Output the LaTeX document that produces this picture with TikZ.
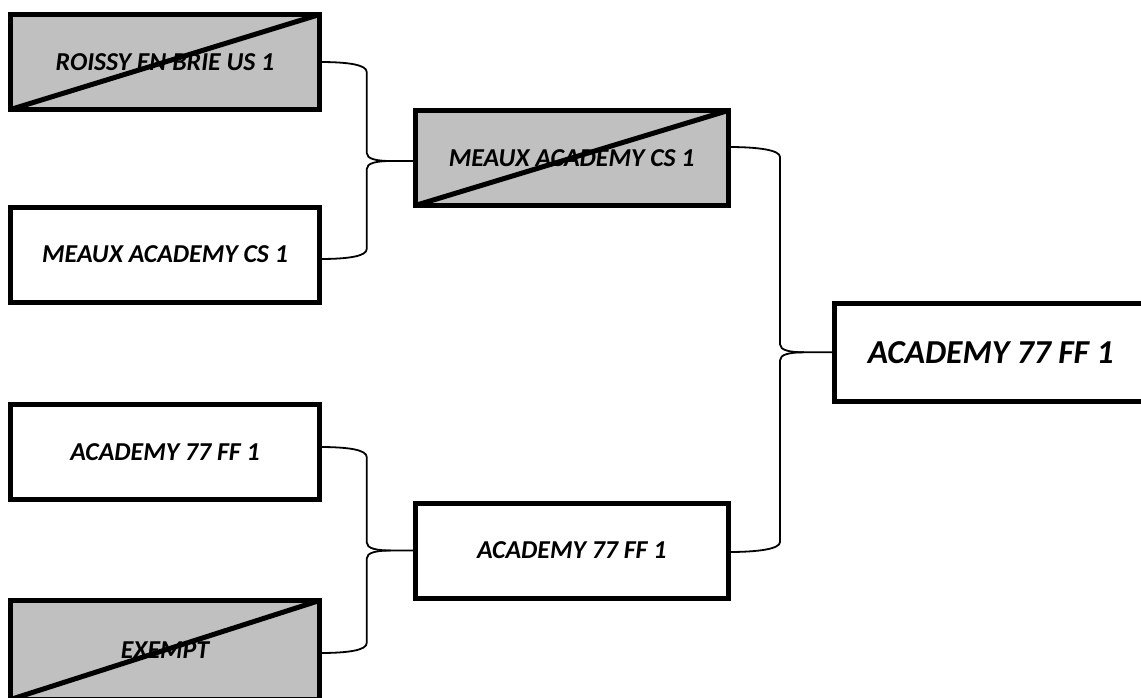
\documentclass[tikz,border=0pt]{standalone}
\usepackage{fontspec}
\setmainfont{Carlito}
\usetikzlibrary{calc}
\definecolor{lostgray}{RGB}{192,192,192}

\begin{document}
\begin{tikzpicture}[x=1pt,y=-1pt,
  team/.style={draw,line width=5pt,minimum width=309pt,minimum height=95pt,
    inner sep=0pt,outer sep=0pt,font=\fontsize{25.8}{31}\selectfont\bfseries\itshape},
  lostteam/.style={team,fill=lostgray},
  conn/.style={line width=1.8pt}]
\useasboundingbox (0,0) rectangle (1141,697);

% first round
\node [lostteam] (ra) at (165,62) {ROISSY EN BRIE US 1};
\node [team] (rb) at (165,254.5) {MEAUX ACADEMY CS 1};
\node [team] (rc) at (165,452) {ACADEMY 77 FF 1};
\node [lostteam,minimum height=99pt] (rd) at (165,650) {EXEMPT};
% semi finals
\node [lostteam,minimum width=313pt] (sa) at (571.7,158) {MEAUX ACADEMY CS 1};
\node [team,minimum width=313pt] (sb) at (571.7,550.5) {ACADEMY 77 FF 1};
% final
\node [team,minimum width=313pt,minimum height=98pt,
  font=\fontsize{33.5}{40}\selectfont\bfseries\itshape] (fin) at (990.7,352.3) {ACADEMY 77 FF 1};

\draw [line width=5pt] (ra.south west) -- (ra.north east) ;
\draw [line width=5pt] (rd.south west) -- (rd.north east) ;
\draw [line width=5pt] (sa.south west) -- (sa.north east) ;

% ports
\coordinate (pa) at (ra.east) ;
\coordinate (pb) at ($(rb.east)+(0,4.5)$) ;
\coordinate (pc) at ($(rc.east)+(0,-5)$) ;
\coordinate (pd) at ($(rd.east)+(0,3)$) ;
\coordinate (qa) at ($(sa.east)+(0,-11)$) ;
\coordinate (qb) at ($(sb.east)+(0,1.5)$) ;
\coordinate (ta) at ($(sa.west)+(0,3)$) ;
\coordinate (tb) at (sb.west) ;
\coordinate (tf) at (fin.west) ;
\coordinate (spa) at (366.7,0) ;
\coordinate (spb) at (780,0) ;

% brackets
\draw [conn] (pa) .. controls +(30,0) and +(0,-7) .. ($(pa -| spa)+(0,10)$) -- ($(ta -| spa)+(0,-8)$)
  .. controls +(0,6) and +(-14,0) .. ($(ta -| spa)+(24,0)$) -- (ta) ;
\draw [conn] (pb) .. controls +(30,0) and +(0,7) .. ($(pb -| spa)+(0,-10)$) -- ($(ta -| spa)+(0,8)$)
  .. controls +(0,-6) and +(-14,0) .. ($(ta -| spa)+(24,0)$) ;
\draw [conn] (pc) .. controls +(30,0) and +(0,-7) .. ($(pc -| spa)+(0,10)$) -- ($(tb -| spa)+(0,-8)$)
  .. controls +(0,6) and +(-14,0) .. ($(tb -| spa)+(24,0)$) -- (tb) ;
\draw [conn] (pd) .. controls +(30,0) and +(0,7) .. ($(pd -| spa)+(0,-10)$) -- ($(tb -| spa)+(0,8)$)
  .. controls +(0,-6) and +(-14,0) .. ($(tb -| spa)+(24,0)$) ;
\draw [conn] (qa) .. controls +(30,0) and +(0,-7) .. ($(qa -| spb)+(0,10)$) -- ($(tf -| spb)+(0,-8)$)
  .. controls +(0,6) and +(-14,0) .. ($(tf -| spb)+(24,0)$) -- (tf) ;
\draw [conn] (qb) .. controls +(30,0) and +(0,7) .. ($(qb -| spb)+(0,-10)$) -- ($(tf -| spb)+(0,8)$)
  .. controls +(0,-6) and +(-14,0) .. ($(tf -| spb)+(24,0)$) ;
\end{tikzpicture}
\end{document}
